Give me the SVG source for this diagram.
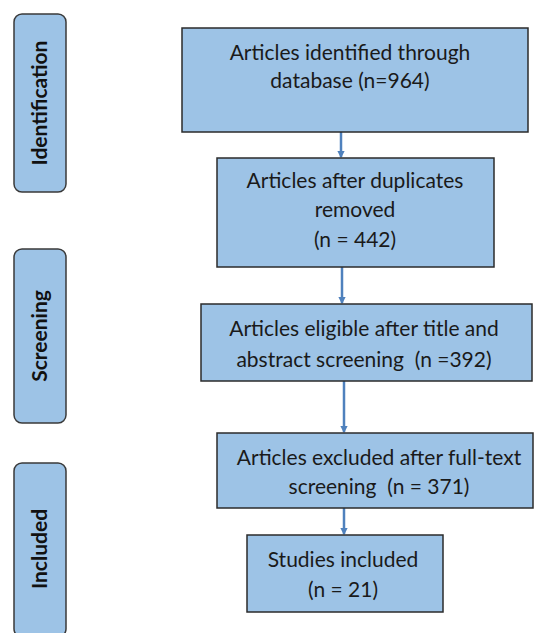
<svg xmlns="http://www.w3.org/2000/svg" width="535" height="633" viewBox="0 0 535 633">
<defs>
<style>
.box{fill:#9dc3e6;stroke:#2b2b2b;stroke-width:1.5}
.side{fill:#9dc3e6;stroke:#3a3a3a;stroke-width:1.5}
.t{font-family:Lato,"Liberation Sans",sans-serif;font-size:21px;fill:#1a1a1a;text-anchor:middle;white-space:pre}
.s{font-family:Lato,"Liberation Sans",sans-serif;font-size:21px;font-weight:bold;fill:#111;text-anchor:middle}
.arrow{stroke:#4f81bd;stroke-width:2.5;fill:none;marker-end:url(#ah)}
</style>
<marker id="ah" viewBox="0 0 6 6" refX="5" refY="3" markerWidth="3" markerHeight="3" orient="auto" markerUnits="strokeWidth">
<path d="M0,0 L6,3 L0,6 z" fill="#4f81bd"/>
</marker>
</defs>
<rect width="535" height="633" fill="#fff"/>
<g id="stage-identification">
<rect class="side" x="14" y="14" width="52" height="178" rx="8"/>
<text class="s" transform="translate(47,103) rotate(-90)">Identification</text>
</g>
<g id="stage-screening">
<rect class="side" x="14" y="249" width="52" height="174" rx="8"/>
<text class="s" transform="translate(47,336) rotate(-90)">Screening</text>
</g>
<g id="stage-included">
<rect class="side" x="14" y="463" width="52" height="174" rx="8"/>
<text class="s" transform="translate(47,549) rotate(-90)">Included</text>
</g>
<g id="connectors">
<line class="arrow" x1="341" y1="132" x2="341" y2="157"/>
<line class="arrow" x1="342" y1="267" x2="342" y2="303"/>
<line class="arrow" x1="344" y1="381" x2="344" y2="432"/>
<line class="arrow" x1="344" y1="508" x2="344" y2="534"/>
</g>
<g id="n1">
<rect class="box" x="182" y="28" width="346" height="104"/>
<text class="t" x="350" y="60">Articles identified through</text>
<text class="t" x="350" y="88">database (n=964)</text>
</g>
<g id="n2">
<rect class="box" x="217" y="158" width="277" height="109"/>
<text class="t" x="355" y="188">Articles after duplicates</text>
<text class="t" x="355" y="217">removed</text>
<text class="t" x="355" y="247">(n = 442)</text>
</g>
<g id="n3">
<rect class="box" x="201" y="304" width="331" height="77"/>
<text class="t" x="364" y="336">Articles eligible after title and</text>
<text class="t" x="364" y="367">abstract screening  (n =392)</text>
</g>
<g id="n4">
<rect class="box" x="217" y="433" width="316" height="75"/>
<text class="t" x="379" y="465">Articles excluded after full-text</text>
<text class="t" x="379" y="494">screening  (n = 371)</text>
</g>
<g id="n5">
<rect class="box" x="247" y="535" width="196" height="77"/>
<text class="t" x="343" y="567">Studies included</text>
<text class="t" x="343" y="597">(n = 21)</text>
</g>
</svg>
